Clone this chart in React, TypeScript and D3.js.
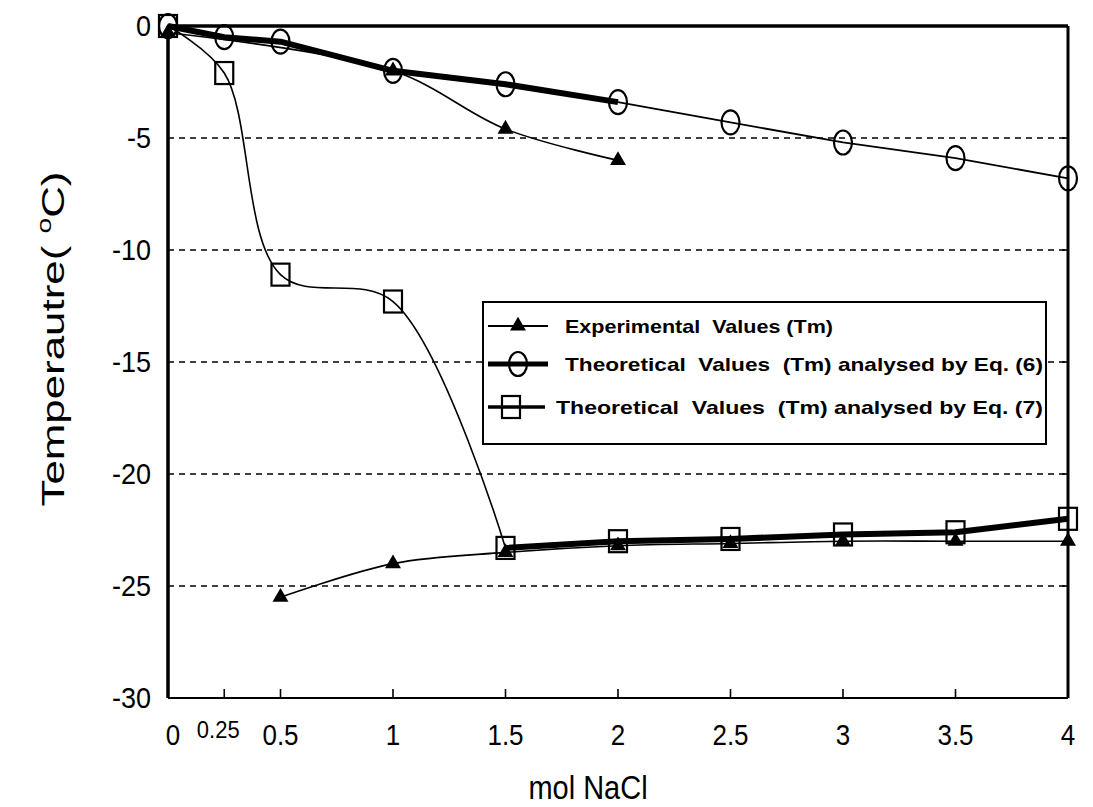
import React, { useEffect, useRef } from 'react';
import * as d3 from 'd3';

type Pt = [number, number];

// x: mol NaCl, y: temperature (°C)
const expUpper: Pt[] = [[0, -0.3], [1, -2.0], [1.5, -4.6], [2, -6.0]];
const expLower: Pt[] = [[0.5, -25.5], [1, -24.0], [1.5, -23.5], [2, -23.2], [2.5, -23.1], [3, -23.0], [3.5, -23.0], [4, -23.0]];
const eq6: Pt[] = [[0, 0], [0.25, -0.5], [0.5, -0.7], [1, -2.0], [1.5, -2.6], [2, -3.4], [2.5, -4.3], [3, -5.2], [3.5, -5.9], [4, -6.8]];
const eq7: Pt[] = [[0, 0], [0.25, -2.1], [0.5, -11.1], [1, -12.3], [1.5, -23.3], [2, -23.0], [2.5, -22.9], [3, -22.7], [3.5, -22.6], [4, -22.0]];

const xTicks = [0, 0.5, 1, 1.5, 2, 2.5, 3, 3.5, 4];
const xTickLabels = ['0', '0.5', '1', '1.5', '2', '2.5', '3', '3.5', '4'];
const yTicks = [0, -5, -10, -15, -20, -25, -30];
const gridValues = [-5, -10, -15, -20, -25];
const legendLabels = [
  'Experimental  Values (Tm)',
  'Theoretical  Values  (Tm) analysed by Eq. (6)',
  'Theoretical  Values  (Tm) analysed by Eq. (7)',
];

const W = 1093;
const H = 807;
const margin = { top: 26, right: 25, bottom: 109, left: 168 };
const FONT = 'Liberation Sans, Arial, sans-serif';

const App: React.FC = () => {
  const svgRef = useRef<SVGSVGElement>(null);

  useEffect(() => {
    if (!svgRef.current) return;
    const svg = d3.select(svgRef.current);
    svg.selectAll('*').remove();

    const x = d3.scaleLinear().domain([0, 4]).range([margin.left, W - margin.right]);
    const y = d3.scaleLinear().domain([-30, 0]).range([H - margin.bottom, margin.top]);

    svg.append('rect').attr('width', W).attr('height', H).attr('fill', '#fff');

    // dashed grid
    gridValues.forEach(v => {
      svg.append('line')
        .attr('x1', x(0)).attr('x2', x(4))
        .attr('y1', y(v)).attr('y2', y(v))
        .attr('stroke', '#000')
        .attr('stroke-width', 1.6)
        .attr('stroke-dasharray', '6,5');
    });

    const spline = d3.line<Pt>().x(d => x(d[0])).y(d => y(d[1])).curve(d3.curveCatmullRom.alpha(0.5));
    const straight = d3.line<Pt>().x(d => x(d[0])).y(d => y(d[1]));

    const drawPath = (pts: Pt[], gen: d3.Line<Pt>, width: number) => {
      svg.append('path')
        .attr('d', gen(pts))
        .attr('fill', 'none')
        .attr('stroke', '#000')
        .attr('stroke-width', width)
        .attr('stroke-linejoin', 'round');
    };

    // experimental thin curves
    drawPath(expUpper, spline, 1.6);
    drawPath(expLower, spline, 1.6);
    // Eq. (6): thick up to 2 mol, thin beyond
    drawPath(eq6.filter(d => d[0] <= 2), straight, 6);
    drawPath(eq6.filter(d => d[0] >= 2), straight, 1.8);
    // Eq. (7): thin spline up to 1.5 mol, thick beyond
    drawPath(eq7.filter(d => d[0] <= 1.5), spline, 1.6);
    drawPath(eq7.filter(d => d[0] >= 1.5), straight, 6);

    const tri = d3.symbol().type(d3.symbolTriangle).size(110);
    const drawTriangle = (g: d3.Selection<any, unknown, null, undefined>, cx: number, cy: number) => {
      g.append('path')
        .attr('d', tri()!)
        .attr('transform', `translate(${cx},${cy})`)
        .attr('fill', '#000');
    };
    const drawCircle = (g: d3.Selection<any, unknown, null, undefined>, cx: number, cy: number) => {
      g.append('ellipse')
        .attr('cx', cx).attr('cy', cy)
        .attr('rx', 9).attr('ry', 12)
        .attr('fill', 'none')
        .attr('stroke', '#000')
        .attr('stroke-width', 2.2);
    };
    const drawSquare = (g: d3.Selection<any, unknown, null, undefined>, cx: number, cy: number) => {
      g.append('rect')
        .attr('x', cx - 9).attr('y', cy - 11)
        .attr('width', 18).attr('height', 22)
        .attr('fill', 'none')
        .attr('stroke', '#000')
        .attr('stroke-width', 2.2);
    };

    [...expUpper, ...expLower].forEach(d => drawTriangle(svg, x(d[0]), y(d[1])));
    eq6.forEach(d => drawCircle(svg, x(d[0]), y(d[1])));
    eq7.forEach(d => drawSquare(svg, x(d[0]), y(d[1])));

    // frame
    svg.append('line').attr('x1', x(0)).attr('x2', x(4)).attr('y1', y(0)).attr('y2', y(0))
      .attr('stroke', '#000').attr('stroke-width', 3.5);
    svg.append('line').attr('x1', x(0)).attr('x2', x(4)).attr('y1', y(-30)).attr('y2', y(-30))
      .attr('stroke', '#000').attr('stroke-width', 2.2);
    svg.append('line').attr('x1', x(0)).attr('x2', x(0)).attr('y1', y(0)).attr('y2', y(-30))
      .attr('stroke', '#000').attr('stroke-width', 3.5);
    svg.append('line').attr('x1', x(4)).attr('x2', x(4)).attr('y1', y(0)).attr('y2', y(-30))
      .attr('stroke', '#000').attr('stroke-width', 3);

    // x axis ticks (inward) and labels, glyphs slightly stretched vertically like the scan
    const xAxis = svg.append('g').attr('font-family', FONT).attr('font-size', 26);
    [0.25, ...xTicks.slice(1, -1)].forEach(v => {
      xAxis.append('line')
        .attr('x1', x(v)).attr('x2', x(v))
        .attr('y1', y(-30)).attr('y2', y(-30) - 9)
        .attr('stroke', '#000').attr('stroke-width', 1.6);
    });
    xTicks.forEach((v, i) => {
      xAxis.append('text')
        .attr('transform', `translate(${x(v) + (v === 0 ? 5 : 0)},${y(-30) + 47}) scale(1,1.12)`)
        .attr('text-anchor', 'middle')
        .attr('fill', '#000')
        .text(xTickLabels[i]);
    });
    xAxis.append('text')
      .attr('transform', `translate(${x(0.25) - 6},${y(-30) + 40}) scale(1,1.12)`)
      .attr('text-anchor', 'middle')
      .attr('font-size', 22)
      .attr('fill', '#000')
      .text('0.25');

    // y axis labels and right-side ticks
    const yAxis = svg.append('g').attr('font-family', FONT).attr('font-size', 27);
    yTicks.forEach(v => {
      yAxis.append('text')
        .attr('transform', `translate(${x(0) - 17},${y(v) + 10}) scale(1,1.1)`)
        .attr('text-anchor', 'end')
        .attr('fill', '#000')
        .text(v === 0 ? '0' : String(v));
      yAxis.append('line')
        .attr('x1', x(4)).attr('x2', x(4) - 6)
        .attr('y1', y(v)).attr('y2', y(v))
        .attr('stroke', '#000').attr('stroke-width', 1.6);
    });

    // axis titles
    svg.append('text')
      .attr('transform', 'translate(588,799) scale(1,1.12)')
      .attr('text-anchor', 'middle')
      .attr('font-family', FONT).attr('font-size', 29)
      .attr('fill', '#000')
      .text('mol NaCl');

    const yTitle = svg.append('text')
      .attr('transform', `translate(64, ${y(-15) - 23}) rotate(-90)`)
      .attr('text-anchor', 'middle')
      .attr('font-family', FONT).attr('font-size', 31)
      .attr('textLength', 335)
      .attr('lengthAdjust', 'spacingAndGlyphs')
      .attr('fill', '#000');
    yTitle.append('tspan').text('Temperautre( ');
    yTitle.append('tspan').attr('font-size', 20).attr('dy', -13).text('o');
    yTitle.append('tspan').attr('dy', 13).text('C)');

    // legend
    const lg = svg.append('g').attr('font-family', FONT);
    lg.append('rect')
      .attr('x', 483).attr('y', 302)
      .attr('width', 563).attr('height', 142)
      .attr('fill', '#fff')
      .attr('stroke', '#000').attr('stroke-width', 2);
    const rows = [326, 364, 407];
    const textX = [565, 565, 556];
    const textLen = [268, 478, 487];
    const lineW = [1.8, 5, 3.5];
    rows.forEach((ry, i) => {
      lg.append('line')
        .attr('x1', 488).attr('x2', i === 2 ? 545 : 548)
        .attr('y1', ry).attr('y2', ry)
        .attr('stroke', '#000').attr('stroke-width', lineW[i]);
      if (i === 0) drawTriangle(lg, 518, ry);
      if (i === 1) drawCircle(lg, 518, ry);
      if (i === 2) drawSquare(lg, 511, ry);
      lg.append('text')
        .attr('x', textX[i]).attr('y', ry)
        .attr('dy', '0.38em')
        .attr('font-size', 19)
        .attr('font-weight', 'bold')
        .attr('textLength', textLen[i])
        .attr('lengthAdjust', 'spacingAndGlyphs')
        .attr('fill', '#000')
        .attr('xml:space', 'preserve')
        .text(legendLabels[i]);
    });
  }, []);

  return (
    <svg
      ref={svgRef}
      width={W}
      height={H}
      style={{ position: 'absolute', left: 0, top: 0, display: 'block', background: '#fff' }}
    />
  );
};

export default App;
